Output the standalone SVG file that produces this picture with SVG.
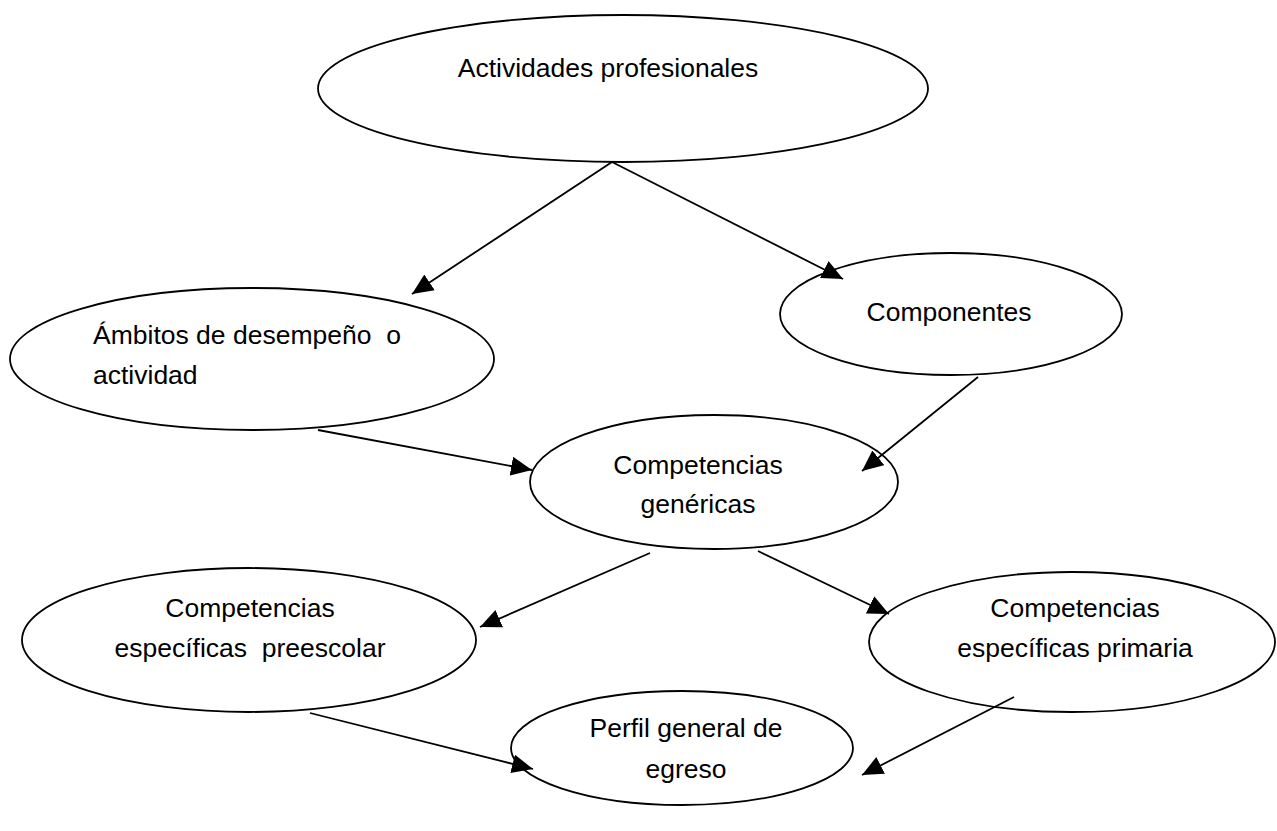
<svg xmlns="http://www.w3.org/2000/svg" width="1277" height="831" viewBox="0 0 1277 831">
<defs>
<marker id="arr" markerUnits="userSpaceOnUse" markerWidth="24" markerHeight="20" refX="21" refY="9.5" orient="auto">
<path d="M0,0 L21,9.5 L0,19 z" fill="#000"/>
</marker>
<style>
.n ellipse{fill:#fff;stroke:#000;stroke-width:1.8}
.n text{font-family:"Liberation Sans",Arial,sans-serif;font-size:26.5px;fill:#000}
.c{text-anchor:middle}
#edges line{stroke:#000;stroke-width:1.8;marker-end:url(#arr)}
</style>
</defs>
<rect width="1277" height="831" fill="#fff"/>
<g id="n1" class="n"><ellipse cx="623" cy="88.5" rx="305" ry="73.5"/><text class="c" x="608" y="77">Actividades profesionales</text></g>
<g id="n2" class="n"><ellipse cx="252" cy="359" rx="242" ry="71"/><text x="93" y="344" xml:space="preserve">Ámbitos de desempeño  o</text><text x="93" y="384">actividad</text></g>
<g id="n3" class="n"><ellipse cx="951" cy="314" rx="171" ry="61"/><text class="c" x="949" y="321">Componentes</text></g>
<g id="n4" class="n"><ellipse cx="714" cy="482" rx="184" ry="67"/><text class="c" x="698" y="474">Competencias</text><text class="c" x="698" y="513">genéricas</text></g>
<g id="n5" class="n"><ellipse cx="249" cy="640" rx="227" ry="72"/><text class="c" x="250" y="617">Competencias</text><text class="c" x="250" y="657" xml:space="preserve">específicas  preescolar</text></g>
<g id="n6" class="n"><ellipse cx="1072" cy="642" rx="203" ry="70"/><text class="c" x="1075" y="617">Competencias</text><text class="c" x="1075" y="657">específicas primaria</text></g>
<g id="n7" class="n"><ellipse cx="682" cy="748" rx="171" ry="57"/><text class="c" x="686" y="737">Perfil general de</text><text class="c" x="686" y="778">egreso</text></g>
<g id="edges">
<line x1="612" y1="162" x2="412" y2="294"/>
<line x1="612" y1="162" x2="843" y2="279"/>
<line x1="318" y1="430" x2="532" y2="470"/>
<line x1="978" y1="377" x2="862" y2="471"/>
<line x1="650" y1="553" x2="480" y2="627"/>
<line x1="758" y1="551" x2="889" y2="614"/>
<line x1="310" y1="713" x2="533" y2="769"/>
<line x1="1014" y1="697" x2="862" y2="775"/>
</g>
</svg>
